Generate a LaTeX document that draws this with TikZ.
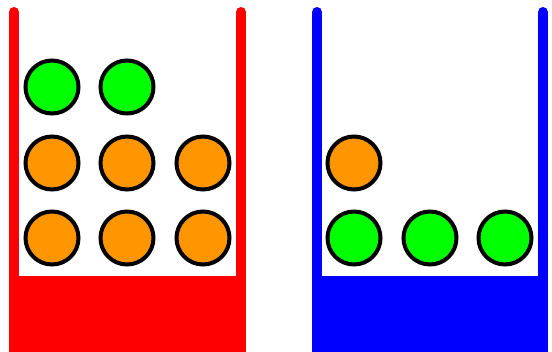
\documentclass[tikz,border=0pt]{standalone}
\usepackage{tikz}
\definecolor{ballgreen}{RGB}{0,255,0}
\definecolor{ballorange}{RGB}{255,150,0}
\tikzset{
  wall/.style={line width=10pt, line cap=round},
  base/.style={draw=none},
  ball/.style={circle, draw, line width=4pt, minimum size=53pt, inner sep=0pt},
  greenball/.style={ball, fill=ballgreen},
  orangeball/.style={ball, fill=ballorange},
}

\begin{document}
\begin{tikzpicture}[x=1pt, y=-1pt]
  \useasboundingbox (0,0) rectangle (552,352);
  % red jar
  \draw[wall, red] (14,12) -- (14,280);
  \draw[wall, red] (241,12) -- (241,280);
  \fill[base, red] (9,276) rectangle (246,352);
  % blue jar
  \draw[wall, blue] (317,12) -- (317,280);
  \draw[wall, blue] (543,12) -- (543,280);
  \fill[base, blue] (312,276) rectangle (548,352);
  % balls in the red jar
  \foreach \i/\x in {1/52, 2/127} \node[greenball] (rg\i) at (\x,87) {};
  \foreach \i/\x in {1/52, 2/127, 3/203} {
    \node[orangeball] (ro\i) at (\x,163) {};
    \node[orangeball] (rb\i) at (\x,238) {};
  }
  % balls in the blue jar
  \node[orangeball] (bo1) at (354,163) {};
  \foreach \i/\x in {1/354, 2/430, 3/505} \node[greenball] (bg\i) at (\x,238) {};
\end{tikzpicture}
\end{document}
